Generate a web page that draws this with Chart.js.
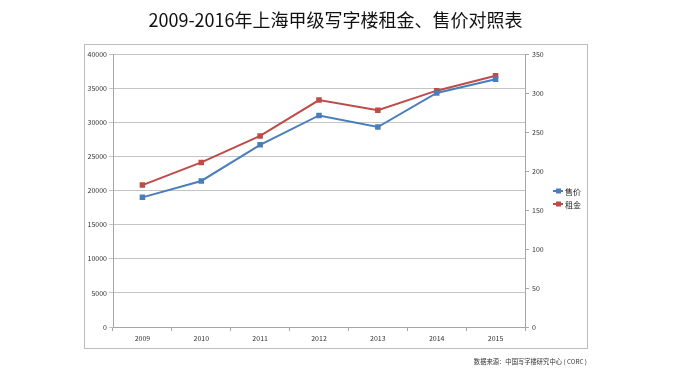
<!DOCTYPE html>
<html>
<head>
<meta charset="utf-8">
<script src="https://cdn.jsdelivr.net/npm/chart.js@4/dist/chart.umd.min.js"></script>
<style>
  html, body { margin: 0; padding: 0; background: #fff; }
  #wrap { width: 677px; height: 384px; }
</style>
</head>
<body>
<div id="wrap"><canvas id="myChart" width="677" height="384"></canvas></div>
<script>
var years = ["2009", "2010", "2011", "2012", "2013", "2014", "2015"]
var salePrice = [19000, 21400, 26700, 31000, 29300, 34300, 36300]   // 售价, left axis
var rent = [182, 211, 245, 291, 278, 303, 322]                       // 租金, right axis
var seriesNames = ["售价", "租金"]
var titleText = "2009-2016年上海甲级写字楼租金、售价对照表"
var sourceText = "数据来源：中国写字楼研究中心 ( CORC )"

var blue = "#4a7ebb"
var red = "#be4b48"
var cjk = "'Noto Sans CJK SC', 'Noto Sans', sans-serif"
var tickFont = { family: cjk, size: 7 }

// outer frame + little legend on the right, Excel style
var framePlugin = {
  id: "frame",
  beforeDraw: function (chart) {
    var ctx = chart.ctx
    var yl = chart.scales.y
    var yr = chart.scales.y1
    var x = chart.scales.x
    ctx.save()
    ctx.strokeStyle = "#bdbdbd"
    ctx.lineWidth = 1
    ctx.strokeRect(yl.left + 0.5, chart.chartArea.top - 9.5, yr.right - yl.left, x.bottom - chart.chartArea.top + 9)
    ctx.restore()
  },
  afterDraw: function (chart) {
    var ctx = chart.ctx
    var lx = chart.scales.y1.right - 34
    var ly = 191
    ctx.save()
    chart.data.datasets.forEach(function (ds, i) {
      var yy = ly + i * 13
      ctx.strokeStyle = ds.borderColor
      ctx.lineWidth = 2
      ctx.beginPath()
      ctx.moveTo(lx, yy)
      ctx.lineTo(lx + 10, yy)
      ctx.stroke()
      ctx.fillStyle = ds.borderColor
      ctx.fillRect(lx + 3, yy - 2.5, 5, 5)
      ctx.fillStyle = "#222"
      ctx.font = "8px " + cjk
      ctx.textBaseline = "middle"
      ctx.fillText(ds.label, lx + 12, yy + 0.5)
    })
    ctx.restore()
  }
}

function plainTick(v) { return String(v) }

var chart = new Chart("myChart", {
  type: "line",
  data: {
    labels: years,
    datasets: [{
      label: seriesNames[0],
      data: salePrice,
      yAxisID: "y",
      borderColor: blue,
      backgroundColor: blue,
      borderWidth: 2,
      pointStyle: "rect",
      pointRadius: 2.5,
      tension: 0,
      fill: false
    }, {
      label: seriesNames[1],
      data: rent,
      yAxisID: "y1",
      borderColor: red,
      backgroundColor: red,
      borderWidth: 2,
      pointStyle: "rect",
      pointRadius: 2.5,
      tension: 0,
      fill: false
    }]
  },
  plugins: [framePlugin],
  options: {
    responsive: false,
    animation: false,
    layout: { padding: { left: 84, right: 90, top: 0, bottom: 14 } },
    plugins: {
      legend: { display: false },
      tooltip: { enabled: false },
      title: {
        display: true,
        text: titleText,
        color: "#111",
        font: { family: cjk, size: 18, weight: "normal" },
        padding: { top: 9, bottom: 23.4 }
      },
      subtitle: {
        display: true,
        text: sourceText,
        position: "bottom",
        align: "end",
        color: "#333",
        font: { family: cjk, size: 6.3 },
        padding: { top: 9.2, bottom: 4.2 }
      }
    },
    scales: {
      x: {
        offset: true,
        grid: { display: true, drawOnChartArea: false, offset: true, tickLength: 4, color: "#a6a6a6" },
        border: { color: "#a6a6a6" },
        ticks: { font: tickFont, color: "#333", padding: 3, maxRotation: 0 },
        afterFit: function (s) { s.height = 22 }
      },
      y: {
        position: "left",
        min: 0,
        max: 40000,
        ticks: { stepSize: 5000, font: tickFont, color: "#333", padding: 2, callback: plainTick },
        grid: { color: "#c4c4c4", tickLength: 4 },
        border: { color: "#a6a6a6" },
        afterFit: function (s) { s.width = 29 }
      },
      y1: {
        position: "right",
        min: 0,
        max: 350,
        ticks: { stepSize: 50, font: tickFont, color: "#333", padding: 3, callback: plainTick },
        grid: { drawOnChartArea: false, tickLength: 4, color: "#a6a6a6" },
        border: { color: "#a6a6a6" },
        afterFit: function (s) { s.width = 62 }
      }
    }
  }
})
</script>
</body>
</html>
